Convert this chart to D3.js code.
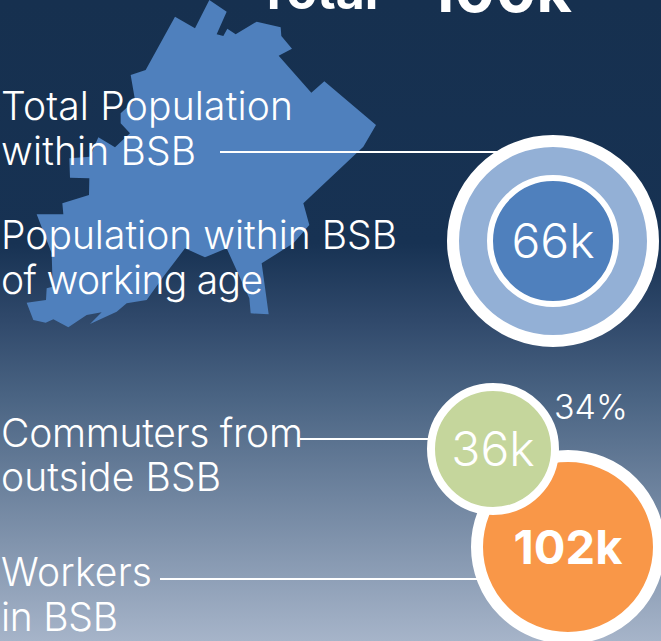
<!doctype html>
<html>
<head>
  <meta charset="utf-8">
  <title>Population within BSB</title>
  <style>
    html, body { margin: 0; padding: 0; background: #16304f; }
    svg { display: block; }
    text { font-family: 'Inter', sans-serif; fill: #fff; }
    .label { font-size: 39px; font-weight: 350; }
  </style>
</head>
<body>
  <div id="chart"></div>
  <script src="https://cdnjs.cloudflare.com/ajax/libs/d3/7.8.5/d3.min.js"></script>
  <script>
    // values
    var names = ["total", "workingAge", "commuters", "workers"];
    var values = [100, 66, 36, 102];
    var valueLabels = ["", "66k", "36k", "102k"];
    var shareLabel = "34%";
    var headerWords = ["Total", "100k"];
    var labelLines = [
      ["Total Population", "within BSB"],
      ["Population within BSB", "of working age"],
      ["Commuters from", "outside BSB"],
      ["Workers", "in BSB"]
    ];
    // district outline in picture pixels x3 (zoomed crop)
    var outlineX = [628,680,650,670,682,707,770,842,844,876,836,934,973,1128,1090,910,928,880,785,806,752,748,680,615,555,490,440,380,350,270,305,260,205,160,137,100,80,138,140,158,155,110,190,187,267,268,210,208,270,295,345,390,362,362,405,392,437,525,585];
    var outlineY = [0,35,103,108,86,103,65,82,108,146,167,278,244,375,440,610,675,730,790,943,940,895,745,772,745,830,900,910,935,972,937,945,982,958,968,960,908,900,865,860,760,643,643,610,585,535,533,475,470,412,442,400,370,340,300,225,210,50,85];

    var width = 661, height = 641;
    var x = d3.scaleLinear().domain([0, 1983]).range([0, 661]);
    var y = d3.scaleLinear().domain([0, 1923]).range([0, 641]);
    var r = d3.scaleOrdinal().domain(names).range([94, 60, 58, 85]);

    var svg = d3.select("#chart").append("svg").attr("width", width).attr("height", height);

    var grad = svg.append("defs").append("linearGradient")
      .attr("id", "bg").attr("x1", 0).attr("x2", 0).attr("y1", 0).attr("y2", 1);
    [[0, "#16304f"], [0.38, "#173253"], [0.5, "#30496b"], [0.62, "#4a6483"], [1, "#a6b4c9"]].forEach(function (s) {
      grad.append("stop").attr("offset", s[0]).attr("stop-color", s[1]);
    });
    svg.append("rect").attr("width", width).attr("height", height).attr("fill", "url(#bg)");

    // map shape
    var line = d3.line().x(function (d, i) { return x(outlineX[i]); }).y(function (d, i) { return y(outlineY[i]); }).curve(d3.curveLinearClosed);
    svg.append("path").attr("d", line(outlineX)).attr("fill", "#4f80bd");

    // header, clipped by top edge
    svg.append("text").attr("x", 257).attr("y", 9).attr("font-size", 50).attr("font-weight", 700).text(headerWords[0]);
    svg.append("text").attr("x", 428).attr("y", 12).attr("font-size", 61).attr("font-weight", 700).text(headerWords[1]);

    // labels, stretched a little to the widths in the picture
    var labelY = [[120, 165], [249, 294], [447, 491], [586, 631]];
    var labelW = [[292, 195], [396, 262], [302, 220], [151, 117]];
    labelLines.forEach(function (lines, i) {
      lines.forEach(function (t, j) {
        svg.append("text").attr("class", "label").attr("x", 1).attr("y", labelY[i][j])
          .attr("textLength", labelW[i][j]).attr("lengthAdjust", "spacing").text(t);
      });
    });

    // leader lines
    var leaders = [[220, 500, 152], [300, 440, 439], [160, 480, 579]];
    svg.selectAll("line.leader").data(leaders).join("line")
      .attr("class", "leader")
      .attr("x1", function (d) { return d[0]; }).attr("x2", function (d) { return d[1]; })
      .attr("y1", function (d) { return d[2]; }).attr("y2", function (d) { return d[2]; })
      .attr("stroke", "#fff").attr("stroke-width", 2);

    // rings
    var cx = [553, 553, 493, 568], cy = [241, 241, 449, 547];
    var ring = [12, 6, 8, 12];
    var fills = ["#93b0d6", "#4f80bd", "#c5d69c", "#f99748"];
    [0, 1, 3, 2].forEach(function (i) {
      svg.append("circle").attr("cx", cx[i]).attr("cy", cy[i]).attr("r", r(names[i]) + ring[i] / 2)
        .attr("fill", fills[i]).attr("stroke", "#fff").attr("stroke-width", ring[i]);
      if (valueLabels[i]) {
        svg.append("text").attr("x", cx[i]).attr("y", cy[i] + 17)
          .attr("text-anchor", "middle")
          .attr("font-size", i === 3 ? 47 : 48)
          .attr("font-weight", i === 3 ? 700 : 350)
          .text(valueLabels[i]);
      }
    });

    svg.append("text").attr("x", 554).attr("y", 419).attr("font-size", 34).attr("font-weight", 350).text(shareLabel);
  </script>
</body>
</html>
